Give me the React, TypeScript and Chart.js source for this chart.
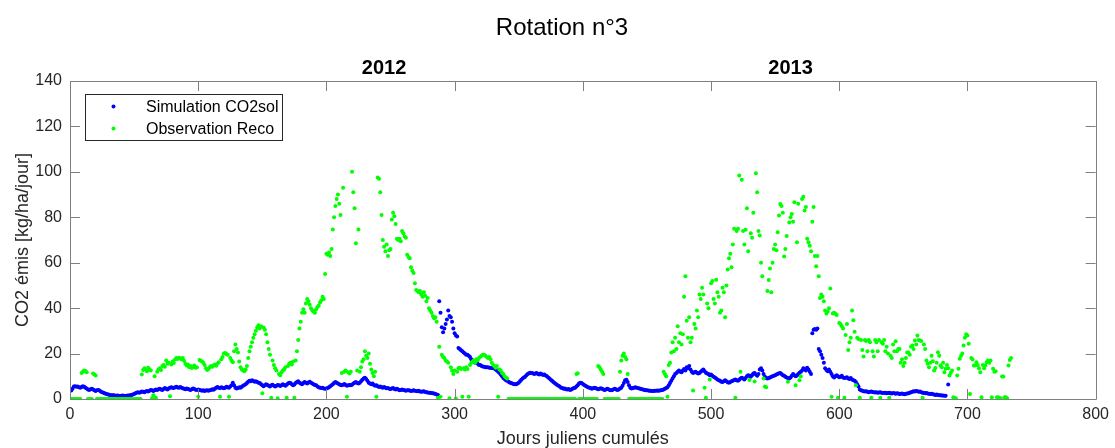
import React, { useEffect, useRef } from "react";
import { Chart, registerables } from "chart.js";

Chart.register(...registerables);

const TITLE = "Rotation n°3";
const YEAR_LABELS = ["2012", "2013"];
const YEAR_DAYS = [245, 562];
const X_LABEL = "Jours juliens cumulés";
const Y_LABEL = "CO2 émis [kg/ha/jour]";
const X_TICKS = [0, 100, 200, 300, 400, 500, 600, 700, 800];
const Y_TICKS = [0, 20, 40, 60, 80, 100, 120, 140];
const SERIES_NAMES = ["Simulation CO2sol", "Observation Reco"];

// Simulation CO2sol, one value per day starting at day 1
const SIM_START_DAY = 1;
const simValues: (number | null)[] = [
  3.7, 4.5, 5.5, 5.6, 5.4, 5.5, 5.2, 5.0, 5.3, 5.6,
  5.4, 5.0, 4.6, 4.2, 4.0, 4.3, 4.5, 4.2, 3.8, 3.5,
  3.8, 4.0, 3.7, 3.3, 3.0, 2.7, 2.5, 2.3, 2.1, 2.0,
  1.8, 1.7, 1.6, 1.6, 1.5, 1.4, 1.5, 1.4, 1.3, 1.4,
  1.5, 1.4, 1.3, 1.4, 1.5, 1.5, 1.6, 1.8, 2.0, 2.2,
  2.5, 2.8, 3.0, 2.8, 3.0, 3.3, 3.2, 3.0, 3.3, 3.5,
  3.3, 3.6, 4.0, 3.8, 3.5, 3.8, 4.2, 4.0, 4.3, 4.5,
  4.2, 4.0, 4.4, 4.8, 4.5, 4.2, 4.6, 5.0, 5.2, 5.0,
  4.8, 5.2, 5.4, 5.1, 5.0, 5.3, 5.0, 4.7, 4.5, 4.3,
  4.6, 4.4, 4.2, 4.0, 4.3, 4.6, 4.4, 4.1, 4.0, 4.2,
  4.0, 3.8, 3.6, 3.8, 3.5, 3.7, 3.9, 3.6, 3.8, 4.0,
  4.3, 4.1, 4.5, 5.0, 5.3, 5.0, 4.8, 5.2, 5.0, 4.7,
  5.0, 5.4, 5.2, 5.0, 5.5, 6.0, 7.2, 6.0, 5.0, 4.6,
  4.8, 5.2, 5.0, 5.4, 5.8, 6.2, 6.5, 7.0, 7.6, 8.0,
  7.8, 8.2, 7.9, 7.6, 7.8, 7.5, 7.2, 7.0, 6.5, 6.0,
  5.6, 6.0, 6.5, 6.2, 5.8, 5.5, 6.0, 6.3, 5.8, 5.5,
  5.8, 6.2, 6.0, 5.7, 6.0, 6.5, 6.2, 5.8, 6.3, 6.8,
  7.2, 7.0, 6.5, 6.0, 6.4, 7.0, 7.5, 7.8, 7.2, 6.8,
  6.5, 7.0, 7.5, 7.2, 6.8, 7.3, 7.6, 7.2, 6.8, 6.5,
  6.2, 6.0, 5.5, 5.2, 5.0, 4.8, 5.0, 4.6, 4.5, 4.6,
  4.8, 5.2, 5.6, 6.0, 6.5, 7.0, 7.5, 7.2, 6.8, 6.5,
  6.2, 6.0, 6.3, 6.6, 6.2, 5.8, 6.0, 6.2, 6.0, 6.3,
  6.8, 7.2, 7.5, 7.0, 6.8, 7.2, 7.8, 8.5, 9.0, 9.4,
  8.8, 8.0, 7.2, 6.8, 6.5, 6.8, 6.2, 5.8, 6.0, 5.6,
  5.3, 5.5, 5.2, 5.0, 5.3, 5.0, 4.7, 4.8, 4.5, 4.4,
  4.6, 4.8, 4.4, 4.2, 4.5, 4.2, 3.9, 4.0, 4.2, 4.0,
  3.8, 3.6, 3.8, 3.9, 3.7, 3.5, 3.6, 3.8, 3.6, 3.5,
  3.4, 3.6, 3.3, 3.2, 3.3, 3.4, 3.1, 3.0, 2.9, 2.8,
  2.7, 2.6, 2.5, 2.4, 2.2, 2.0, 1.8,
  43, 38, 31.6, 29.4, 31, 33, 35, 39, 36.5, 36,
  34, 31, 29, 28, 27.5, 22.5, 22, 21.5, 21, 20.5,
  20, 19.5, 19.5, 19, 18.5, 17.5, 17, 16.5, 16, 16, 15.5, 15, 15,
  14.5, 14.3, 14.2, 14, 14, 14, 13.8, 13.8, 13.6, 13.5, 13.4, 13, 12.5,
  12, 11.5, 10.8, 10, 9.3, 8.8, 8.3, 8, 7.6, 7.3, 7, 6.8,
  6.6, 6.5, 6.5, 6.8, 7.2, 7.8, 8.5,
  9, 9.5, 9.8, 10.5, 11, 11.3, 11.6, 11.5, 11.3, 11.0,
  11.2, 11.4, 11.0, 10.8, 11.2, 10.9, 10.6, 10.8, 10.3, 10.0, 9.5, 9.0, 8.5,
  8.0, 7.5, 7.0, 6.6, 6.2, 5.8, 5.5, 5.0, 4.8, 4.5, 4.6, 4.3, 4.2, 4.4, 4.0,
  4.2, 4.5, 4.8, 5.0, 5.5, 6.0, 6.8, 7.2, 7.0, 6.6,
  6.2, 5.8, 5.5, 5.2, 5.0, 4.8, 4.5, 4.7, 5.0, 4.8, 4.5, 4.3, 4.5,
  4.7, 4.5, 4.2, 4.0, 4.2, 4.5, 4.3, 4.0, 3.8, 4.0, 4.3, 4.5, 4.2, 4.0, 4.2, 4.6, 5.0, 5.8,
  7.0, 8.2, 8.5, 7.5, 6.0, 5.0, 4.6, 4.8, 5.0,
  5.2, 5.0, 4.8, 4.6, 4.5, 4.3, 4.2, 4.0, 3.9, 3.8, 3.7, 3.6, 3.6, 3.5, 3.5, 3.6, 3.6, 3.7, 3.6, 3.7, 3.8, 4.0, 4.2, 4.5, 4.8,
  5.2, 6.0, 7.0, 8.0, 9.0, 10.0, 11.0, 11.5, 12.0, 12.5, 12.0, 11.8, 12.5, 13.2, 12.5,
  14.0, 13.5, 14.5, 13.0, 12.0, 11.5, 11.8, 12.0, 11.6, 11.2, 11.5, 12.0, 12.5, 13.0, 12.2, 11.6, 11.2, 11.0, 10.5, 10.8,
  10.2, 9.8, 9.5, 9.0, 8.6, 8.2, 8.0, 7.6, 7.5, 7.8, 8.2, 7.8, 7.4, 7.2, 7.5, 7.8, 8.0, 8.4, 8.6, 8.2,
  8.0, 8.5, 9.0, 9.4, 9.0, 8.6, 9.2, 10.0, 10.5, 10.2, 9.8, 10.5, 11.2, 11.5, 10.8, 10.2, 11.0, 13.0, 13.5, 12.5,
  11.0, 9.8, 9.2, 9.0, 9.2, 9.5, 9.8, 10.0, 10.2, 10.5, 10.8, 11.0, 11.3, 11.5, 11.0, 10.5, 10.2, 9.8, 9.5, 9.2,
  9.0, 9.5, 10.2, 11.0, 10.5, 10.0, 10.4, 11.0, 11.6, 12.0, 12.5, 13.5, 13.2, 12.5, 13.8, 13.0, 12.0, 11.0, 29.0, 30.5,
  30.8, 30.5, 31.0, 22.0, 21.0, 19.5, 18.0, 16.0, 13.5, 12.8, 12.2, 13.0, 12.0, 11.0, 10.0, 9.5, 10.0, 10.5, 10.0, 9.6,
  9.8, 10.2, 9.5, 9.2, 9.4, 9.6, 9.0, 8.8, 9.2, 8.6, 8.2, 8.0, 7.5, 6.5, 5.5, 4.2, 3.8, 3.6, 3.4, 3.3,
  3.4, 3.2, 3.0, 3.2, 3.3, 3.1, 3.0, 2.9, 3.0, 2.8, 2.9, 3.0, 2.8, 2.6, 2.8, 2.7, 2.5, 2.6, 2.7, 2.5,
  2.4, 2.6, 2.5, 2.3, 2.5, 2.4, 2.2, 2.3, 2.4, 2.2, 2.1, 2.3, 2.4, 2.5, 2.7, 3.0, 3.2, 3.4, 3.3, 3.5,
  3.4, 3.2, 3.3, 3.0, 2.8, 2.7, 2.5, 2.6, 2.4, 2.3, 2.2, 2.3, 2.1, 2.0, 1.8, 2.0, 1.8, 1.7, 1.6, 1.5,
  1.5, 1.4, 1.4, null, 6.4,
];

// Observation Reco, one value per day starting at day 1 (0 = no flux measured)
const OBS_START_DAY = 1;
const obsValues: (number | null)[] = [
  0, 0, 0, 0, 0, 0, 0, 0, 11.5, 12.0,
  12.5, 12.3, 11.8, 0, 0, 0, 0, 11.2, 10.8, 10.4,
  0, 0, 0, 0, 0, 0, 0, 0, 0, 0,
  0, 0, 0, 0, 0, 0, 0, 0, 0, 0,
  0, 0, 0, 0, 0, 0, 0, 0, 0, 0,
  0, 0, 0, 0, 0, 10.8, 12.8, 13.5, 13.2, 12.2,
  13.8, 13.0, 12.6, 0.3, 1.6, 10.0, 0.6, 12.0, 13.0, 13.5,
  12.8, 14.5, 15.0, 14.2, 17.0, 15.5, 16.0, 1.2, 15.2, 16.5,
  15.8, 17.5, 18.0, 17.6, 18.2, 17.8, 17.5, 18.0, 16.8, 15.5,
  14.8, 15.2, 14.0, 14.5, 13.6, 14.2, 14.8, 13.8, 14.0, 1.0,
  17.2, 16.8, 16.5, 16.0, 15.0, 13.5, 12.8, 13.2, 14.0, 14.5,
  14.2, 14.8, 15.2, 14.6, 15.5, 16.2, 1.0, 17.5, 18.5, 20.0,
  20.2, 19.8, 19.5, 1.0, 18.0, 17.0, 16.2, 21.0, 24.0, 22.0,
  20.5, 16.5, 14.0, 13.0, 12.5, 12.2, 13.0, 14.5, 18.0, 21.0,
  23.0, 25.0, 27.0, 28.5, 30.0, 31.5, 32.5, 31.0, 32.0, 2.5,
  31.5, 30.5, 28.5, 25.0, 22.0, 19.5, 0.5, 17.0, 15.0, 13.5,
  12.5, 0.3, 11.0, 10.5, 11.8, 12.5, 13.0, 14.0, 0.5, 14.5,
  15.5, 16.0, 15.2, 16.5, 0.5, 17.0, 21.0, 26.0, 31.0, 34.0,
  38.0, 39.5, 38.0, 42.0, 44.0, 43.0, 41.5, 40.0, 39.0, 38.5,
  38.0, 39.5, 40.5, 41.0, 42.5, 43.5, 45.0, 44.0, 55, 64,
  63.5, 64.5, 63, 66, 74.6, 80, 85, 88, 90, 86,
  81, 11.5, 93, 12.0, 12.5, 1.0, 11.8, 11.2, 12.0, 100,
  91, 84, 68.6, 12.5, 74.6, 12.0, 14.0, 16.5, 17.5, 21.0,
  19.0, 18.0, 20.0, 15.5, 13.0, 11.5, 10.0, 12.0, 1.0, 97.5,
  97.0, 91.0, 81.0, 70.0, 67.0, 65.0, 68.0, 63.0, 65.5, 66.0,
  79.0, 82.0, 80.5, 77.0, 70.5, 70.0, 70.5, 69.5, 74.0, 73.0,
  71.5, 71.0, 63.5, 62.5, 62.0, 58.0, 56.5, 55.5, 51.0, 48.0,
  47.5, 47.0, 47.5, 46.0, 45.0, 47.0, 45.5, 43.0, 44.5, 40.0,
  39.0, 38.0, 36.5, 35.5, 36.0, 34.0, 0.5, 23.0, 1.0, 19.5,
  18.5, 18.0, 17.0, 16.5, 16.0, 0.3, 14.0, 12.5, 11.0, 12.5,
  0.2, 12.0, 13.5, 13.8, 13.2, 1.0, 13.5, 13.0, 14.0, 13.2,
  1.0, 15.0, 16.0, 16.5, 17.0, 16.0, 17.5, 17.0, 18.0, 18.5,
  19.0, 19.5, 19.5, 19.0, 18.5, 18.0, 18.5, 17.5, 16.0, 15.0,
  14.5, 13.8, 14.5, 1.0, 13.0, 12.5, 11.5, 11.0, 10.0, 9.5,
  9.0, 0, 0, 0, 0, 0, 0, 0, 0, 0,
  0, 0, 0, 0, 0, 0, 0, 0, 0, 0,
  0, 0, 0, 0, 0, 0, 0, 0, 0, 0,
  0, 0, 0, 0, 0, 0, 0, 0, 0, 0,
  0, 0, 0, 0, 0, 0, 0, 0, 0, 0,
  0, 0, 0, 0, 11.0, 11.3, 0, 0, 0, 0,
  0, 0, 0, 0, 0, 0, 0, 0, 0, 0,
  0, 14.5, 14.0, 13.0, 12.0, 11.0, 0, 0, 0, 0,
  0, 0, 0, 0, 0, 0, 0, 0, 12.0, 17.0,
  19.0, 20.0, 18.5, 17.5, 11.0, 0, 0, 0, 0, 0,
  0, 0, 0, 0, 0, 0, 0, 0, 0, 0,
  0, 0, 0, 0, 0, 0, 0, 0, 0, 0,
  0, 0, 12.0, 11.0, 10.0, 1.0, 15.0, 16.0, 20.5, 25.0,
  21.0, 27.0, 22.0, 32.0, 25.0, 29.0, 24.0, 28.5, 45.0, 54.0,
  34.5, 27.0, 36.0, 25.0, 27.0, 3.7, 33.0, 31.0, 39.0, 36.0,
  46.0, 44.0, 49.0, 46.0, 5.0, 0.5, 42.0, 40.0, 8.6, 51.0,
  52.0, 44.0, 42.0, 52.5, 47.0, 45.0, 38.0, 39.0, 49.0, 47.0,
  36.0, 50.0, 57.0, 62.0, 64.0, 58.0, 68.0, 75.0, 0.5, 74.0,
  75.0, 98.4, 12.0, 96.5, 74.0, 68.0, 74.5, 84.0, 65.0, 8.4,
  73.0, 71.0, 82.0, 7.7, 99.4, 91.0, 74.0, 72.0, 60.0, 54.0,
  9.0, 5.5, 5.2, 47.5, 52.4, 57.5, 47.0, 60.0, 66.0, 68.0,
  65.5, 73.4, 80.8, 85.9, 85.0, 82.0, 62.7, 66.0, 71.8, 7.6,
  77.7, 80.0, 81.4, 78.0, 86.6, 6.0, 69.0, 86.0, 8.3, 10.0,
  88.0, 89.0, 83.0, 84.5, 70.5, 69.0, 67.5, 65.0, 78.0, 84.5,
  63.0, 58.4, 63.0, 54.0, 44.5, 46.0, 45.0, 43.0, 39.0, 37.6,
  38.5, 40.0, 48.6, 1.0, 37.6, 38.0, 37.5, 37.0, 0.5, 33.5,
  33.0, 32.0, 31.0, 0.5, 28.2, 33.0, 21.6, 25.0, 27.0, 39.0,
  34.7, 29.6, 6.0, 27.0, 26.4, 0.5, 26.0, 21.6, 18.7, 26.0,
  25.5, 21.0, 26.0, 25.0, 0.5, 21.0, 18.7, 26.0, 25.0, 21.0,
  26.0, 0.5, 25.0, 24.3, 26.0, 21.0, 23.0, 20.0, 0.5, 19.0,
  18.0, 24.0, 21.0, 25.4, 21.0, 22.0, 22.0, 16.0, 17.5, 14.5,
  16.0, 18.0, 20.5, 20.5, 19.5, 23.0, 23.5, 22.0, 25.8, 24.0,
  28.0, 26.0, 25.8, 25.5, 0.5, 24.0, 22.0, 17.0, 15.5, 14.0,
  16.0, 19.0, 16.6, 12.5, 13.6, 16.0, 20.6, 19.0, 14.7, 14.0,
  16.0, 11.8, 13.3, 15.0, 13.5, 10.4, 11.5, 12.5, 0.8, 0.3,
  0.3, 10.4, 13.3, 17.7, 19.0, 20.0, 23.5, 27.0, 28.5, 28.0,
  24.3, 2.2, 18.0, 17.4, 14.7, 14.7, 16.2, 15.0, 13.5, 11.8,
  0.8, 15.0, 13.5, 14.7, 16.2, 17.0, 16.0, 17.0, 0.8, 13.3,
  12.0, 12.2, 0.8, 0.8, 0.3, 0.3, 9.9, 9.9, 0.8, 0.8,
  0.3, 14.7, 17.2, 18.0,
];

const SIM_COLOR = "#0000ff";
const OBS_COLOR = "#00ff00";
const FONT = '"Liberation Sans", Arial, Helvetica, sans-serif';

function toPoints(values: (number | null)[], start: number) {
  const pts: { x: number; y: number }[] = [];
  values.forEach((v, i) => {
    if (v !== null) pts.push({ x: start + i, y: v });
  });
  return pts;
}

const decorPlugin = {
  id: "decor",
  afterDraw(chart: any) {
    const { ctx, chartArea } = chart;
    const { left, top, right, bottom } = chartArea;
    const xs = chart.scales.x;
    const ys = chart.scales.y;
    ctx.save();
    // box
    ctx.strokeStyle = "#808080";
    ctx.lineWidth = 1;
    ctx.beginPath();
    ctx.rect(Math.round(left) + 0.5, Math.round(top) + 0.5, Math.round(right - left), Math.round(bottom - top));
    ctx.stroke();
    // inner ticks
    const tl = 10;
    ctx.beginPath();
    X_TICKS.forEach((t) => {
      const px = Math.round(xs.getPixelForValue(t)) + 0.5;
      ctx.moveTo(px, bottom);
      ctx.lineTo(px, bottom - tl);
      ctx.moveTo(px, top);
      ctx.lineTo(px, top + tl);
    });
    Y_TICKS.forEach((t) => {
      const py = Math.round(ys.getPixelForValue(t)) + 0.5;
      ctx.moveTo(left, py);
      ctx.lineTo(left + tl, py);
      ctx.moveTo(right, py);
      ctx.lineTo(right - tl, py);
    });
    ctx.stroke();

    // title
    ctx.fillStyle = "#000";
    ctx.textAlign = "center";
    ctx.textBaseline = "alphabetic";
    ctx.font = `24px ${FONT}`;
    ctx.fillText(TITLE, 562, 35);
    // years
    ctx.font = `bold 20px ${FONT}`;
    YEAR_LABELS.forEach((lab, i) => {
      ctx.fillText(lab, xs.getPixelForValue(YEAR_DAYS[i]), 74);
    });
    // axis titles
    ctx.fillStyle = "#262626";
    ctx.font = `18px ${FONT}`;
    ctx.fillText(X_LABEL, (left + right) / 2, 444);
    ctx.save();
    ctx.translate(28, (top + bottom) / 2);
    ctx.rotate(-Math.PI / 2);
    ctx.fillText(Y_LABEL, 0, 0);
    ctx.restore();

    // legend
    const lx = 85.5, ly = 94.5, lw = 197, lh = 46;
    ctx.fillStyle = "#fff";
    ctx.fillRect(lx, ly, lw, lh);
    ctx.strokeStyle = "#262626";
    ctx.strokeRect(lx, ly, lw, lh);
    const colors = [SIM_COLOR, OBS_COLOR];
    ctx.font = `16px ${FONT}`;
    ctx.textAlign = "left";
    ctx.textBaseline = "middle";
    SERIES_NAMES.forEach((name, i) => {
      const cy = 106.5 + i * 22;
      ctx.fillStyle = colors[i];
      ctx.beginPath();
      ctx.arc(113.5, cy, 2, 0, Math.PI * 2);
      ctx.fill();
      ctx.fillStyle = "#000";
      ctx.fillText(name, 146, cy + 1);
    });
    ctx.restore();
  },
};

export default function App() {
  const ref = useRef<HTMLCanvasElement | null>(null);
  useEffect(() => {
    document.body.style.margin = "0";
    const canvas = ref.current;
    if (!canvas) return;
    const chart = new Chart(canvas, {
      type: "scatter",
      data: {
        datasets: [
          {
            label: SERIES_NAMES[0],
            data: toPoints(simValues, SIM_START_DAY),
            backgroundColor: SIM_COLOR,
            borderColor: SIM_COLOR,
            pointRadius: 2,
            pointBorderWidth: 0,
            order: 1,
          },
          {
            label: SERIES_NAMES[1],
            data: toPoints(obsValues, OBS_START_DAY),
            backgroundColor: OBS_COLOR,
            borderColor: OBS_COLOR,
            pointRadius: 2,
            pointBorderWidth: 0,
            order: 0,
          },
        ],
      },
      options: {
        animation: false,
        responsive: false,
        devicePixelRatio: 1,
        layout: { padding: { left: 0, top: 81, right: 16, bottom: 0 } },
        plugins: {
          legend: { display: false },
          title: { display: false },
          tooltip: { enabled: false },
        },
        scales: {
          x: {
            type: "linear",
            min: 0,
            max: 800,
            afterBuildTicks: (scale: any) => {
              scale.ticks = X_TICKS.map((v) => ({ value: v }));
            },
            ticks: { color: "#262626", font: { family: FONT, size: 16 }, padding: 6, maxRotation: 0 },
            grid: { display: false, drawTicks: false },
            border: { display: false },
            afterFit: (scale: any) => {
              scale.height = 49;
            },
          },
          y: {
            type: "linear",
            min: 0,
            max: 140,
            afterBuildTicks: (scale: any) => {
              scale.ticks = Y_TICKS.map((v) => ({ value: v }));
            },
            ticks: { color: "#262626", font: { family: FONT, size: 16 }, padding: 8 },
            grid: { display: false, drawTicks: false },
            border: { display: false },
            afterFit: (scale: any) => {
              scale.width = 70;
            },
          },
        },
      },
      plugins: [decorPlugin],
    });
    return () => chart.destroy();
  }, []);
  return (
    <div style={{ width: 1115, height: 448, overflow: "hidden" }}>
      <canvas ref={ref} width={1115} height={448} style={{ display: "block" }} />
    </div>
  );
}
